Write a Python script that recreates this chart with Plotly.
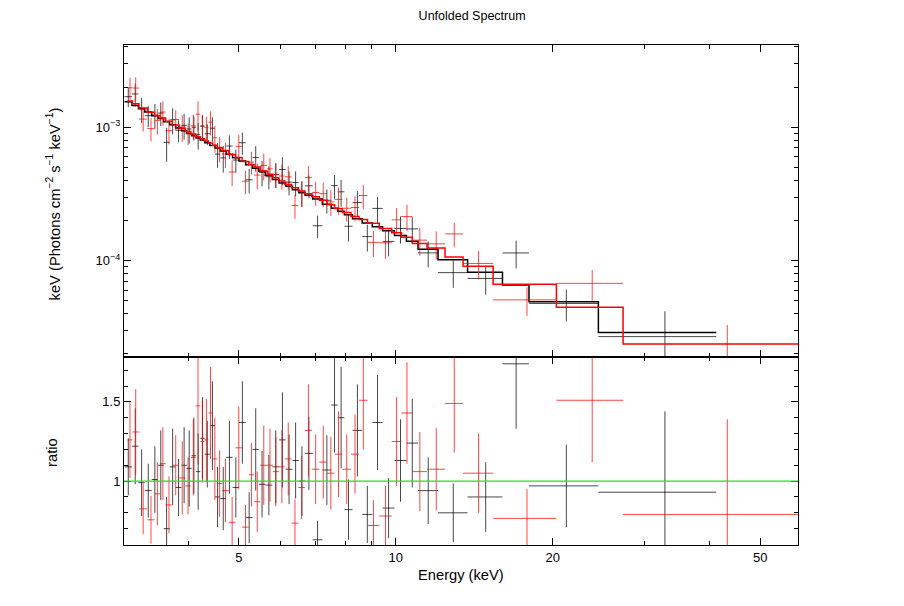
import numpy as np
import plotly.graph_objects as go
from plotly.subplots import make_subplots

# Spectrum 1 (black): energy bin edges (keV), folded model per bin, data/model ratio
black_edges = [3.017, 3.118, 3.208, 3.299, 3.402, 3.497, 3.586, 3.682, 3.781, 3.880,
               3.971, 4.058, 4.139, 4.215, 4.299, 4.399, 4.498, 4.604, 4.728, 4.863,
               5.003, 5.152, 5.312, 5.460, 5.618, 5.797, 5.972, 6.148, 6.334, 6.514,
               6.698, 6.927, 7.230, 7.520, 7.738, 7.968, 8.260, 8.621, 9.014, 9.434,
               9.94, 10.48, 11.03, 12.05, 13.73, 16.02, 18.01, 24.47, 41.19]
black_model = [1.556e-3, 1.457e-3, 1.383e-3, 1.300e-3, 1.222e-3, 1.162e-3, 1.102e-3, 1.044e-3,
               9.90e-4, 9.41e-4, 8.99e-4, 8.63e-4, 8.30e-4, 8.02e-4, 7.65e-4, 7.29e-4,
               6.99e-4, 6.63e-4, 6.29e-4, 5.92e-4, 5.59e-4, 5.25e-4, 4.94e-4, 4.69e-4,
               4.37e-4, 4.07e-4, 3.83e-4, 3.61e-4, 3.41e-4, 3.24e-4, 3.10e-4, 2.90e-4,
               2.65e-4, 2.47e-4, 2.345e-4, 2.21e-4, 2.065e-4, 1.918e-4, 1.80e-4, 1.68e-4,
               1.545e-4, 1.396e-4, 1.217e-4, 1.017e-4, 8.18e-5, 6.57e-5, 4.93e-5, 2.90e-5]
black_ratio = [1.09, 1.22, 0.99, 0.94, 1.01, 1.10, 0.70, 1.09, 0.96, 1.10,
               1.08, 1.16, 1.06, 1.27, 1.17, 1.35, 0.90, 0.89, 1.15, 0.96,
               1.37, 0.77, 1.20, 0.98, 0.975, 1.09, 1.26, 1.075, 1.13, 1.00,
               1.175, 0.63, 1.07, 1.48, 1.40, 0.82, 1.32, 0.79, 1.37, 0.83,
               1.13, 1.24, 0.94, 0.80, 0.90, 1.74, 0.97, 0.93]
black_ratio_err = [0.18, 0.24, 0.21, 0.17, 0.21, 0.22, 0.20, 0.24, 0.18, 0.24,
                   0.24, 0.24, 0.24, 0.26, 0.21, 0.28, 0.19, 0.20, 0.23, 0.19,
                   0.26, 0.16, 0.26, 0.21, 0.19, 0.23, 0.30, 0.22, 0.24, 0.22,
                   0.23, 0.12, 0.22, 0.30, 0.32, 0.19, 0.29, 0.18, 0.30, 0.19,
                   0.26, 0.28, 0.21, 0.185, 0.22, 0.41, 0.26, 0.51]

# Spectrum 2 (red)
red_edges = [3.057, 3.124, 3.216, 3.336, 3.446, 3.530, 3.618, 3.725, 3.840, 3.946,
             4.043, 4.133, 4.215, 4.294, 4.370, 4.452, 4.541, 4.643, 4.782, 4.924,
             5.071, 5.224, 5.347, 5.498, 5.664, 5.810, 5.964, 6.127, 6.310, 6.501,
             6.692, 6.902, 7.135, 7.381, 7.630, 7.897, 8.205, 8.499, 8.826, 9.294,
             9.82, 10.25, 10.76, 11.48, 12.43, 13.46, 15.37, 20.33, 27.29, 59.2]
red_model = [1.572e-3, 1.503e-3, 1.397e-3, 1.294e-3, 1.226e-3, 1.172e-3, 1.111e-3, 1.040e-3,
             9.85e-4, 9.31e-4, 8.91e-4, 8.51e-4, 8.21e-4, 7.89e-4, 7.64e-4, 7.33e-4,
             7.06e-4, 6.70e-4, 6.25e-4, 5.95e-4, 5.55e-4, 5.27e-4, 5.04e-4, 4.71e-4,
             4.44e-4, 4.18e-4, 3.96e-4, 3.73e-4, 3.525e-4, 3.335e-4, 3.18e-4, 3.02e-4,
             2.84e-4, 2.63e-4, 2.46e-4, 2.30e-4, 2.14e-4, 2.04e-4, 1.905e-4, 1.746e-4,
             1.62e-4, 1.50e-4, 1.345e-4, 1.245e-4, 1.066e-4, 9.08e-5, 6.65e-5, 4.48e-5, 2.37e-5]
red_ratio = [1.26, 1.31, 0.825, 0.756, 0.92, 1.11, 0.85, 1.10, 1.02, 0.97,
             1.15, 1.475, 1.25, 1.26, 1.43, 1.14, 0.985, 0.94, 0.74, 1.21,
             0.71, 1.04, 0.87, 1.10, 1.10, 1.06, 1.09, 1.14, 0.735, 0.96,
             1.32, 1.075, 1.12, 1.05, 1.17, 1.075, 1.17, 1.51, 0.72, 0.78,
             1.25, 1.43, 1.06, 1.075, 1.49, 1.05, 0.765, 1.51, 0.79]
red_ratio_err = [0.24, 0.27, 0.16, 0.15, 0.20, 0.23, 0.18, 0.19, 0.23, 0.18,
                 0.24, 0.37, 0.26, 0.26, 0.29, 0.26, 0.21, 0.20, 0.16, 0.26,
                 0.14, 0.20, 0.19, 0.25, 0.23, 0.22, 0.23, 0.23, 0.15, 0.20,
                 0.29, 0.22, 0.23, 0.23, 0.27, 0.22, 0.25, 0.31, 0.16, 0.19,
                 0.28, 0.32, 0.25, 0.26, 0.31, 0.25, 0.185, 0.39, 0.60]

x_tick_vals = [5, 10, 20, 50]
x_minor_vals = [3, 4, 6, 7, 8, 9, 30, 40]
y_tick_vals = [1e-4, 1e-3]
y_tick_text = ['10<sup>−4</sup>', '10<sup>−3</sup>']
y_minor_vals = [2e-5, 3e-5, 4e-5, 5e-5, 6e-5, 7e-5, 8e-5, 9e-5,
                2e-4, 3e-4, 4e-4, 5e-4, 6e-4, 7e-4, 8e-4, 9e-4, 2e-3, 3e-3, 4e-3]
r_tick_vals = [1, 1.5]
r_minor_vals = [0.6, 0.7, 0.8, 0.9, 1.1, 1.2, 1.3, 1.4, 1.6, 1.7]

FONT = 'Liberation Sans, Arial, Helvetica, sans-serif'


def spectrum_traces(edges, model, ratio, ratio_err, color, err_color):
    """Data crosses (top + ratio) and the model histogram for one spectrum"""
    e = np.asarray(edges)
    centre = (e[:-1] + e[1:]) / 2
    half = (e[1:] - e[:-1]) / 2
    model = np.asarray(model)
    ratio = np.asarray(ratio)
    ratio_err = np.asarray(ratio_err)
    flux = model * ratio
    flux_err = model * ratio_err

    cross = dict(color=err_color, thickness=1, width=0)
    hidden = dict(size=1, opacity=0, color=color)
    top = go.Scatter(x=centre, y=flux, mode='markers', marker=hidden,
                     error_x=dict(type='data', array=half, **cross),
                     error_y=dict(type='data', array=flux_err, **cross),
                     hoverinfo='skip')
    step = go.Scatter(x=list(e), y=list(model) + [model[-1]], mode='lines',
                      line=dict(color=color, width=1.5, shape='hv'), hoverinfo='skip')
    bottom = go.Scatter(x=centre, y=ratio, mode='markers', marker=hidden,
                        error_x=dict(type='data', array=half, **cross),
                        error_y=dict(type='data', array=ratio_err, **cross),
                        hoverinfo='skip')
    return top, step, bottom


fig = make_subplots(rows=2, cols=1, shared_xaxes=True, vertical_spacing=0,
                    row_heights=[0.624, 0.376])

for args in [(black_edges, black_model, black_ratio, black_ratio_err, 'black', 'rgba(0,0,0,0.72)'),
             (red_edges, red_model, red_ratio, red_ratio_err, 'red', 'rgba(255,0,0,0.72)')]:
    top, step, bottom = spectrum_traces(*args)
    fig.add_trace(top, row=1, col=1)
    fig.add_trace(step, row=1, col=1)
    fig.add_trace(bottom, row=2, col=1)

# unity line in the ratio panel
fig.add_shape(type='line', xref='x2 domain', yref='y2', x0=0, x1=1, y0=1, y1=1,
              line=dict(color='rgb(30,225,30)', width=1.2))

axis_style = dict(showline=True, linecolor='black', linewidth=1, mirror='allticks',
                  ticks='inside', ticklen=7, tickcolor='black', showgrid=False,
                  zeroline=False, tickfont=dict(family=FONT, size=13, color='black'))
minor_style = dict(ticks='inside', ticklen=4, tickcolor='black', showgrid=False)

x_range = [np.log10(3.01), np.log10(59.1)]
fig.update_xaxes(type='log', range=x_range, tickvals=x_tick_vals,
                 ticktext=[str(v) for v in x_tick_vals],
                 minor=dict(tickvals=x_minor_vals, **minor_style), **axis_style)
fig.update_xaxes(showticklabels=False, row=1, col=1)

fig.update_yaxes(type='log', range=[-4.722, -2.383], tickvals=y_tick_vals,
                 ticktext=y_tick_text, minor=dict(tickvals=y_minor_vals, **minor_style),
                 row=1, col=1, **axis_style)
fig.update_yaxes(range=[0.597, 1.783], tickvals=r_tick_vals, ticktext=['1', '1.5'],
                 minor=dict(tickvals=r_minor_vals, **minor_style),
                 row=2, col=1, **axis_style)

label_font = dict(family=FONT, size=14.7, color='black')
fig.add_annotation(text='keV (Photons cm<sup>−2</sup> s<sup>−1</sup> keV<sup>−1</sup>)',
                   xref='paper', yref='paper', x=-0.104, y=0.683, textangle=-90,
                   xanchor='center', yanchor='middle', showarrow=False, font=label_font)
fig.add_annotation(text='ratio', xref='paper', yref='paper', x=-0.107, y=0.186,
                   textangle=-90, xanchor='center', yanchor='middle',
                   showarrow=False, font=label_font)
fig.add_annotation(text='Energy (keV)', xref='paper', yref='paper', x=0.5, y=-0.06,
                   xanchor='center', yanchor='middle', showarrow=False, font=label_font)

# the page body adds an 8px offset, so the figure is drawn 8px smaller
fig.update_layout(
    width=896, height=598,
    margin=dict(l=116, r=106, t=37, b=61),
    paper_bgcolor='white', plot_bgcolor='white',
    showlegend=False,
    title=dict(text='Unfolded Spectrum', x=0.518, xref='container', y=0.9866,
               yref='container', xanchor='center', yanchor='middle',
               font=dict(family=FONT, size=12.5, color='black')),
)

fig.write_html("out.html")
